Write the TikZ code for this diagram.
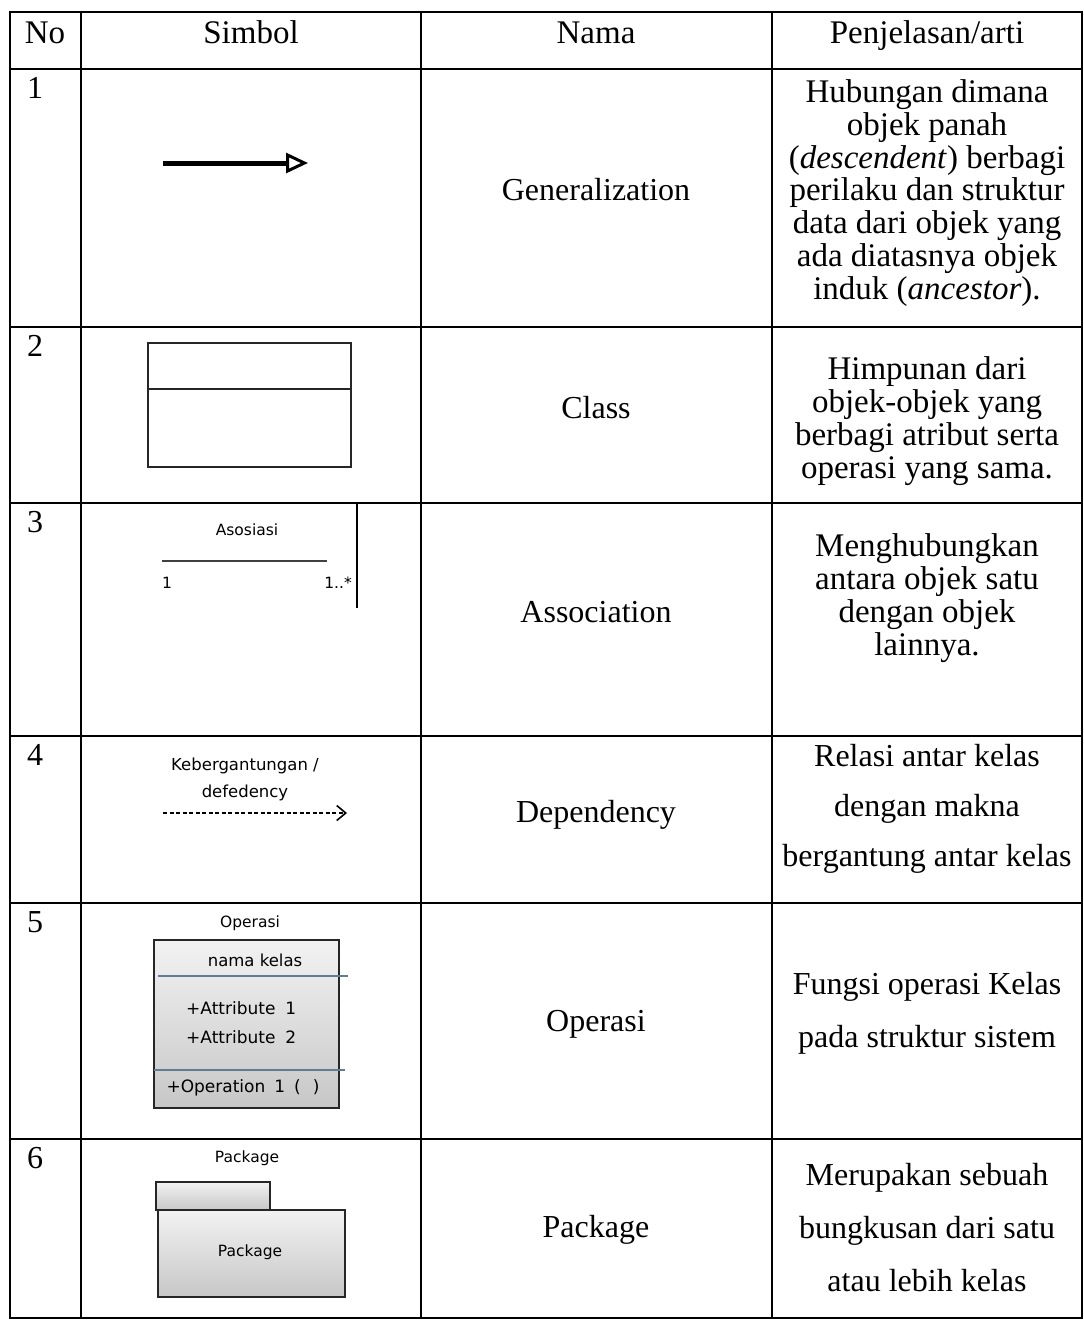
\documentclass[tikz,border=0pt]{standalone}
\usepackage{fontspec}
\setmainfont{Liberation Serif}
\newfontfamily\symfont{DejaVu Sans}
\usetikzlibrary{arrows.meta}
\definecolor{sepblue}{RGB}{96,125,150}
\tikzset{
  grid/.style={line width=2pt,line cap=rect},
  txt/.style={align=center,inner sep=0pt,font=\fontsize{32}{32.8}\selectfont},
  ket/.style={align=center,inner sep=0pt,font=\fontsize{33}{32.8}\selectfont},
  num/.style={anchor=base west,inner sep=0pt,font=\fontsize{32}{32.8}\selectfont},
  small/.style={align=center,inner sep=0pt,font=\symfont\fontsize{15.5}{26}\selectfont},
  genarrow/.style={line width=5pt,-{Triangle[open,length=22pt,width=20pt,line width=3pt]}},
  deparrow/.style={line width=1.4pt,dash pattern=on 4pt off 2.5pt,-{Straight Barb[length=9pt,width=15pt,line width=1.6pt]}},
  umlbox/.style={draw=black!85,line width=2pt,inner sep=0pt},
  greybox/.style={umlbox,top color=black!5,bottom color=black!22},
  sep/.style={sepblue,line width=1.3pt}
}
\begin{document}
\begin{tikzpicture}[x=1pt,y=-1pt]
\useasboundingbox (0,0) rectangle (1084,1320);
\foreach \y in {12,69,327,503,736,903,1139,1318}
  \draw[grid] (10,\y) -- (1082,\y);
\foreach \x in {10,81,421,772,1082}
  \draw[grid] (\x,12) -- (\x,1318);
\node[ket,anchor=base] (hno) at (45,43) {No};
\node[ket,anchor=base] (hsimbol) at (251,43) {Simbol};
\node[ket,anchor=base] (hnama) at (596,43) {Nama};
\node[ket,anchor=base] (hket) at (927,43) {Penjelasan/arti};
\foreach \n/\y in {1/98,2/356,3/532,4/765,5/932,6/1168}
  \node[num] (no\n) at (27,\y) {\n};
\node[txt,anchor=base] (nama1) at (596,200) {Generalization};
\node[txt,anchor=base] (nama2) at (596,418) {Class};
\node[txt,anchor=base] (nama3) at (596,622) {Association};
\node[txt,anchor=base] (nama4) at (596,822) {Dependency};
\node[txt,anchor=base] (nama5) at (596,1031) {Operasi};
\node[txt,anchor=base] (nama6) at (596,1237) {Package};
\node[ket] (ket1) at (927,193) {Hubungan dimana\\objek panah\\(\textit{descendent}) berbagi\\perilaku dan struktur\\data dari objek yang\\ada diatasnya objek\\induk (\textit{ancestor}).};
\node[ket] (ket2) at (927,421) {Himpunan dari\\objek-objek yang\\berbagi atribut serta\\operasi yang sama.};
\node[ket] (ket3) at (927,598) {Menghubungkan\\antara objek satu\\dengan objek\\lainnya.};
\node[txt,font=\fontsize{32}{50}\selectfont] (ket4) at (927,809) {Relasi antar kelas\\dengan makna\\bergantung antar kelas};
\node[txt,font=\fontsize{32}{53}\selectfont] (ket5) at (927,1013) {Fungsi operasi Kelas\\pada struktur sistem};
\node[txt,font=\fontsize{32}{53}\selectfont] (ket6) at (927,1228) {Merupakan sebuah\\bungkusan dari satu\\atau lebih kelas};
\coordinate (g1) at (163,163);
\coordinate (g2) at (308,163);
\draw[genarrow] (g1) -- (g2);
\node[umlbox,minimum width=203pt,minimum height=124pt] (cls) at (249.5,405) {};
\draw[line width=2pt,black!85] (cls.west |- 0,389) -- (cls.east |- 0,389);
\node[small] (aso) at (247,530) {Asosiasi};
\coordinate (a1) at (162,561);
\coordinate (a2) at (327,561);
\draw[line width=2pt,black!75] (a1) -- (a2);
\node[small,anchor=base west] (m1) at (162,588) {1};
\node[small,anchor=base east] (m2) at (352,588) {1..*};
\coordinate (v1) at (357,504);
\coordinate (v2) at (357,608);
\draw[line width=2pt] (v1) -- (v2);
\node[small,font=\symfont\fontsize{16.5}{27}\selectfont] (dep) at (245,779) {Kebergantungan /\\defedency};
\coordinate (d1) at (163,813);
\coordinate (d2) at (347,813);
\draw[deparrow] (d1) -- (d2);
\node[small] (oplabel) at (250,923) {Operasi};
\node[greybox,minimum width=185pt,minimum height=168pt] (opbox) at (246.5,1024) {};
\draw[sep] (158,976) -- (348,976);
\draw[sep] (154,1070) -- (345,1070);
\node[small,font=\symfont\fontsize{16.5}{20}\selectfont] (kelas) at (255,960) {nama kelas};
\node[small,anchor=west,font=\symfont\fontsize{17}{20}\selectfont] (att1) at (186,1008) {+Attribute\hspace{10pt}1};
\node[small,anchor=west,font=\symfont\fontsize{17}{20}\selectfont] (att2) at (186,1037) {+Attribute\hspace{10pt}2};
\node[small,font=\symfont\fontsize{17}{20}\selectfont] (oper) at (243,1088) {+Operation\hspace{9pt}1\hspace{9pt}(\hspace{12pt})};
\node[small] (pklabel) at (247,1158) {Package};
\node[greybox,minimum width=114pt,minimum height=28pt] (tab) at (213,1196) {};
\node[greybox,minimum width=187pt,minimum height=87pt] (pkg) at (251.5,1253.5) {};
\node[small] (pkname) at (250,1252) {Package};
\end{tikzpicture}
\end{document}
